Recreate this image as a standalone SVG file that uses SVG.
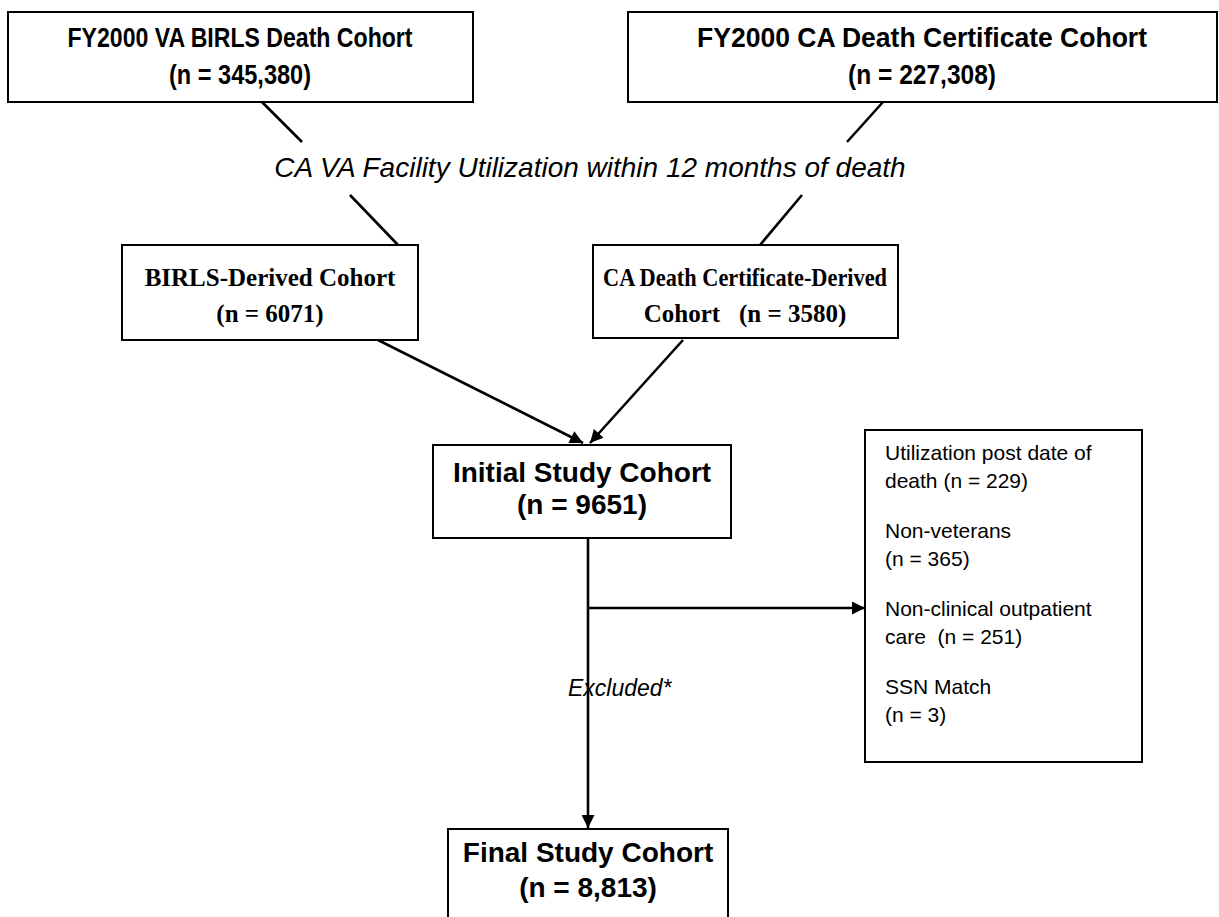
<svg xmlns="http://www.w3.org/2000/svg" width="1219" height="917" viewBox="0 0 1219 917">
<defs>
<style>
.box{fill:#fff;stroke:#000;stroke-width:2}
.ln{stroke:#000;stroke-width:2.6;fill:none}
.ab{font-family:"Liberation Sans",Arial,sans-serif;font-weight:bold;font-size:28px;text-anchor:middle}
.tb{font-family:"Liberation Serif","Times New Roman",serif;font-weight:bold;font-size:25px;text-anchor:middle}
.rg{font-family:"Liberation Sans",Arial,sans-serif;font-size:21px}
.it{font-family:"Liberation Sans",Arial,sans-serif;font-style:italic}
</style>
<marker id="ah" viewBox="0 0 10 10" refX="10" refY="5" markerWidth="6" markerHeight="5" markerUnits="strokeWidth" orient="auto">
<path d="M0,0 L10,5 L0,10 z" fill="#000"/>
</marker>
</defs>
<rect width="1219" height="917" fill="#fff"/>
<g id="connectors">
<line class="ln" x1="262" y1="102" x2="302" y2="142"/>
<line class="ln" x1="350" y1="195" x2="398" y2="245"/>
<line class="ln" x1="883" y1="102" x2="847" y2="142"/>
<line class="ln" x1="802" y1="195" x2="760" y2="245"/>
<line class="ln" x1="378" y1="340" x2="583" y2="443" marker-end="url(#ah)"/>
<line class="ln" x1="683" y1="340" x2="590" y2="443" marker-end="url(#ah)"/>
<line class="ln" x1="588" y1="538" x2="588" y2="828" marker-end="url(#ah)"/>
<line class="ln" x1="588" y1="608" x2="865" y2="608" marker-end="url(#ah)"/>
</g>
<g id="label-util"><text class="it" x="590" y="177" font-size="28" text-anchor="middle">CA VA Facility Utilization within 12 months of death</text></g>
<g id="label-excl"><text class="it" x="568" y="696" font-size="23">Excluded*</text></g>
<g id="birls-death">
<rect class="box" x="8" y="12" width="465" height="90"/>
<text class="ab" x="240" y="47" textLength="345" lengthAdjust="spacingAndGlyphs">FY2000 VA BIRLS Death Cohort</text>
<text class="ab" x="240" y="84" textLength="142" lengthAdjust="spacingAndGlyphs">(n = 345,380)</text>
</g>
<g id="ca-death">
<rect class="box" x="628" y="12" width="589" height="90"/>
<text class="ab" x="922" y="47" textLength="450" lengthAdjust="spacingAndGlyphs">FY2000 CA Death Certificate Cohort</text>
<text class="ab" x="922" y="84" textLength="148" lengthAdjust="spacingAndGlyphs">(n = 227,308)</text>
</g>
<g id="birls-derived">
<rect class="box" x="122" y="245" width="296" height="95"/>
<text class="tb" x="270" y="286">BIRLS-Derived Cohort</text>
<text class="tb" x="270" y="322">(n = 6071)</text>
</g>
<g id="ca-derived">
<rect class="box" x="593" y="245" width="305" height="93"/>
<text class="tb" x="745" y="286" textLength="284" lengthAdjust="spacingAndGlyphs">CA Death Certificate-Derived</text>
<text class="tb" x="745" y="322" xml:space="preserve">Cohort   (n = 3580)</text>
</g>
<g id="initial">
<rect class="box" x="433" y="445" width="298" height="93"/>
<text class="ab" x="582" y="482">Initial Study Cohort</text>
<text class="ab" x="582" y="514">(n = 9651)</text>
</g>
<g id="excluded">
<rect class="box" x="865" y="430" width="277" height="332"/>
<text class="rg" x="885" y="460">Utilization post date of</text>
<text class="rg" x="885" y="488">death (n = 229)</text>
<text class="rg" x="885" y="538">Non-veterans</text>
<text class="rg" x="885" y="566">(n = 365)</text>
<text class="rg" x="885" y="616">Non-clinical outpatient</text>
<text class="rg" x="885" y="644" xml:space="preserve">care  (n = 251)</text>
<text class="rg" x="885" y="694">SSN Match</text>
<text class="rg" x="885" y="722">(n = 3)</text>
</g>
<g id="final">
<rect class="box" x="448" y="829" width="280" height="100"/>
<text class="ab" x="588" y="862">Final Study Cohort</text>
<text class="ab" x="588" y="897">(n = 8,813)</text>
</g>
</svg>
